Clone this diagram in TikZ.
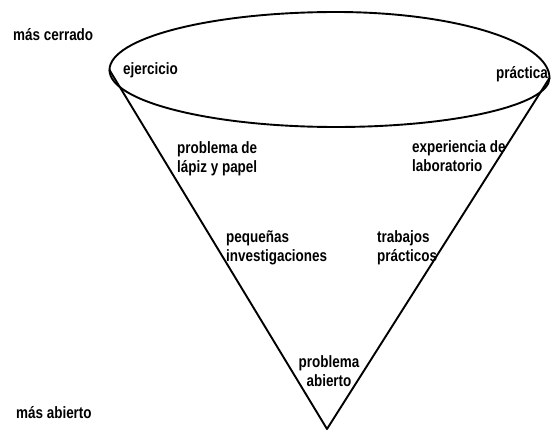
\documentclass[tikz,border=0pt]{standalone}
\usepackage{fontspec}
\newfontfamily\lblfont{Liberation Sans}[FakeStretch=0.82]
\tikzset{
  lbl/.style={inner sep=0pt, font=\lblfont\bfseries\fontsize{16.4}{18.5}\selectfont, align=left},
  cone/.style={line width=1.9pt, line cap=round, line join=round}
}
\begin{document}
\begin{tikzpicture}[x=1pt,y=-1pt]
\useasboundingbox (0,0) rectangle (551,430);
\coordinate (L) at (109.5,70);
\coordinate (R) at (549.5,78);
\coordinate (apex) at (327,429);
% mouth of the cone
\draw[cone] (L)
  arc[start angle=180, end angle=270, x radius=226.5, y radius=58]
  arc[start angle=270, end angle=360, x radius=213.5, y radius=66]
  arc[start angle=0, end angle=90, x radius=213.5, y radius=49]
  arc[start angle=90, end angle=180, x radius=226.5, y radius=57] -- cycle;
\draw[cone] (L) -- (apex) -- (R);
\node[lbl, anchor=west] (cerr) at (13,35) {más cerrado};
\node[lbl, anchor=west] (ejer) at (123,70) {ejercicio};
\node[lbl, anchor=east] (prac) at (548,74) {práctica};
\node[lbl, anchor=west] (lapiz) at (177,159) {problema de\\lápiz y papel};
\node[lbl, anchor=west] (labo) at (412,156) {experiencia de\\laboratorio};
\node[lbl, anchor=west] (peq) at (226,248) {pequeñas\\investigaciones};
\node[lbl, anchor=west] (trab) at (377,248) {trabajos\\prácticos};
\node[lbl, align=center] (abie) at (329,371) {problema\\abierto};
\node[lbl, anchor=west] (abierto) at (16,413) {más abierto};
\end{tikzpicture}
\end{document}
